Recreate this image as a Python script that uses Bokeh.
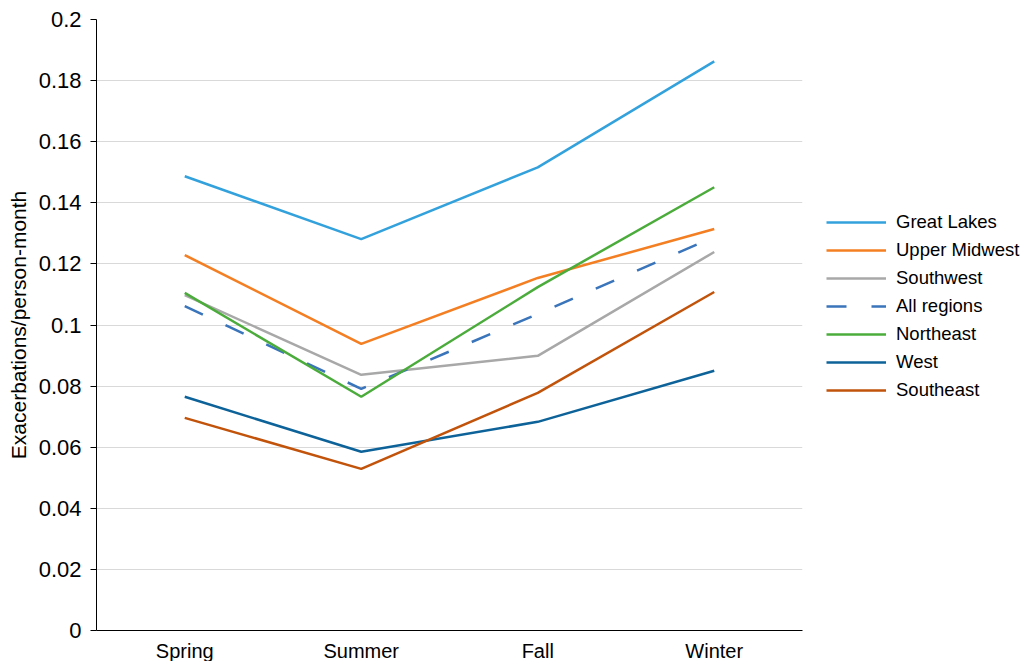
from bokeh.plotting import figure
from bokeh.models import Legend, LegendItem, FixedTicker, CustomJSTickFormatter
from bokeh.embed import file_html
from bokeh.resources import INLINE

seasons = ["Spring", "Summer", "Fall", "Winter"]
great_lakes = [0.1487, 0.1281, 0.1516, 0.1863]
upper_midwest = [0.1229, 0.0938, 0.1154, 0.1314]
southwest = [0.1098, 0.0837, 0.0899, 0.1239]
all_regions = [0.1062, 0.0791, 0.1036, 0.1288]
northeast = [0.1105, 0.0765, 0.1124, 0.1451]
west = [0.0765, 0.0585, 0.0683, 0.0850]
southeast = [0.0696, 0.0529, 0.0778, 0.1108]
y_ticks = [0, 0.02, 0.04, 0.06, 0.08, 0.1, 0.12, 0.14, 0.16, 0.18, 0.2]

series = [
    ("Great Lakes", great_lakes, "#33a2dc", "solid"),
    ("Upper Midwest", upper_midwest, "#f47e22", "solid"),
    ("Southwest", southwest, "#a8a8a8", "solid"),
    ("All regions", all_regions, "#3a74ba", "20 25"),
    ("Northeast", northeast, "#4bac3c", "solid"),
    ("West", west, "#0d6399", "solid"),
    ("Southeast", southeast, "#c1530b", "solid"),
]

FONT = "Liberation Sans"

p = figure(x_range=seasons, y_range=(0, 0.2), frame_width=706, frame_height=611,
           min_border_left=96, min_border_top=19, min_border_bottom=30, min_border_right=0,
           output_backend="svg", toolbar_location=None)
p.x_range.range_padding = 0

items = []
for name, vals, col, dash in series:
    r = p.line(seasons, vals, line_color=col, line_width=2.5, line_dash=dash)
    items.append(LegendItem(label=name, renderers=[r]))

p.outline_line_color = None
p.xgrid.grid_line_color = None
p.ygrid.grid_line_color = "#d9d9d9"
p.ygrid.grid_line_width = 1

p.yaxis.ticker = FixedTicker(ticks=y_ticks)
p.yaxis.formatter = CustomJSTickFormatter(code="return String(+tick.toFixed(2));")
p.yaxis.minor_tick_line_color = None
p.yaxis.major_tick_out = 6
p.yaxis.major_tick_in = 0
p.yaxis.axis_line_color = "black"
p.yaxis.major_tick_line_color = "black"
p.yaxis.axis_label = "Exacerbations/person-month"
p.yaxis.axis_label_text_font = FONT
p.yaxis.axis_label_text_font_style = "normal"
p.yaxis.axis_label_text_font_size = "21px"
p.yaxis.axis_label_text_color = "black"
p.yaxis.axis_label_standoff = 6
p.yaxis.major_label_text_font = FONT
p.yaxis.major_label_text_font_size = "22px"
p.yaxis.major_label_text_color = "black"
p.yaxis.major_label_standoff = 9

p.xaxis.major_tick_line_color = None
p.xaxis.minor_tick_line_color = None
p.xaxis.axis_line_color = "black"
p.xaxis.major_label_text_font = FONT
p.xaxis.major_label_text_font_size = "20px"
p.xaxis.major_label_text_color = "black"
p.xaxis.major_label_standoff = 3

legend = Legend(items=items, location=(24, 229), border_line_alpha=0, background_fill_alpha=0,
                padding=0, margin=0, spacing=6, glyph_width=60, glyph_height=20,
                label_height=20, label_text_font=FONT, label_text_font_size="18.5px",
                label_text_color="black", label_standoff=10)
p.add_layout(legend, "right")

open("out.html", "w").write(file_html(p, INLINE))
